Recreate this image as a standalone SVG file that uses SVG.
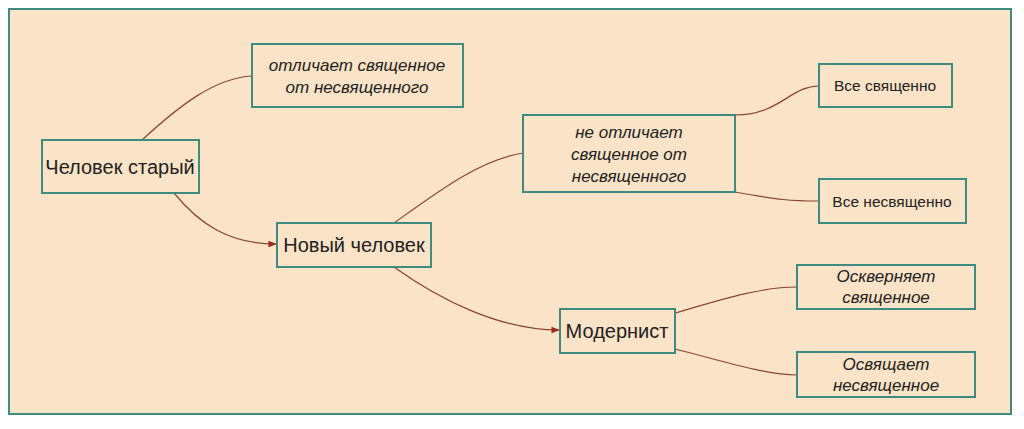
<svg xmlns="http://www.w3.org/2000/svg" width="1024" height="429" viewBox="0 0 1024 429">
<style>
.n rect{fill:#fae3c6;stroke:#3e8b80;stroke-width:2}
.n text{font-family:"Liberation Sans",Arial,sans-serif;fill:#222;text-anchor:middle}
.b text{font-size:20px}
.i text{font-size:17px;font-style:italic}
.s text{font-size:15.5px}
#c path{fill:none;stroke:#8c4533;stroke-width:1.2}
</style>
<defs><marker id="a" viewBox="0 0 10 10" refX="9" refY="5" markerWidth="7" markerHeight="7" orient="auto"><path d="M0,1L10,5L0,9z" fill="#9a2a20"/></marker></defs>
<rect width="1024" height="429" fill="#fff"/>
<rect x="9" y="9" width="1002" height="405" fill="#fae3c6" stroke="#3e8b80" stroke-width="2"/>
<g id="c">
<path d="M142,140 C180,105 215,78 252,76"/>
<path d="M174,193 C200,225 230,244 276,244" marker-end="url(#a)"/>
<path d="M394,223 C440,190 480,160 523,153"/>
<path d="M394,267 C440,300 500,330 559,330" marker-end="url(#a)"/>
<path d="M735,115 C780,115 790,86 819,86"/>
<path d="M735,192 C780,200 790,201 819,201"/>
<path d="M675,313 C720,300 760,287 797,287"/>
<path d="M675,349 C720,360 760,374 797,375"/>
</g>
<g id="n1" class="n b"><rect x="42" y="140" width="157" height="53"/><text x="120" y="174">Человек старый</text></g>
<g id="n2" class="n i"><rect x="252" y="44" width="211" height="63"/><text x="357" y="71">отличает священное</text><text x="357" y="93">от несвященного</text></g>
<g id="n3" class="n b"><rect x="277" y="223" width="154" height="44"/><text x="354" y="252">Новый человек</text></g>
<g id="n4" class="n i"><rect x="523" y="115" width="212" height="77"/><text x="629" y="138">не отличает</text><text x="629" y="160">священное от</text><text x="629" y="182">несвященного</text></g>
<g id="n5" class="n s"><rect x="819" y="64" width="133" height="43"/><text x="885" y="91">Все священно</text></g>
<g id="n6" class="n s"><rect x="819" y="179" width="147" height="44"/><text x="892" y="207">Все несвященно</text></g>
<g id="n7" class="n b"><rect x="560" y="309" width="115" height="44"/><text x="617" y="338">Модернист</text></g>
<g id="n8" class="n i"><rect x="797" y="265" width="178" height="44"/><text x="886" y="282">Оскверняет</text><text x="886" y="303">священное</text></g>
<g id="n9" class="n i"><rect x="797" y="352" width="178" height="45"/><text x="886" y="370">Освящает</text><text x="886" y="391">несвященное</text></g>
</svg>
